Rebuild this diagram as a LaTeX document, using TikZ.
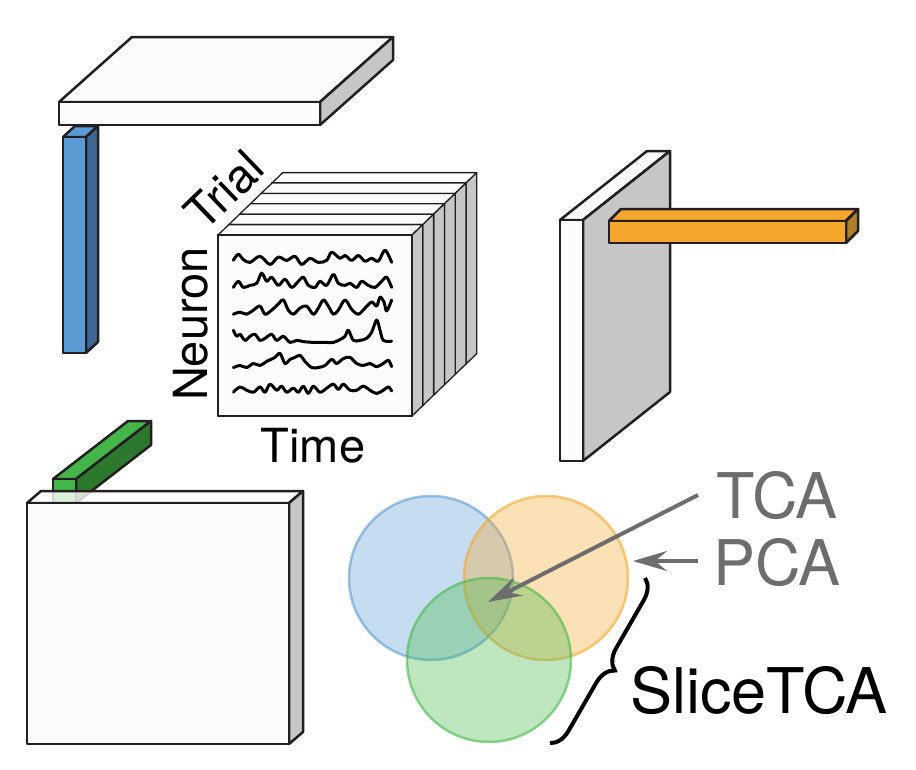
\documentclass[tikz,border=0pt]{standalone}
\usepackage{fontspec}
\setmainfont{TeX Gyre Heros}
\usetikzlibrary{arrows.meta,decorations.pathreplacing}
\definecolor{edgec}{HTML}{231F20}
\definecolor{facew}{HTML}{FCFCFC}
\definecolor{faceg}{HTML}{C6C6C6}
\definecolor{bluef}{HTML}{5B9BD5}
\definecolor{blues}{HTML}{3E6894}
\definecolor{orangef}{HTML}{F5A72D}
\definecolor{oranges}{HTML}{B07D2C}
\definecolor{greenf}{HTML}{43B549}
\definecolor{greens}{HTML}{2C782C}
\definecolor{vblue}{RGB}{91,155,213}
\definecolor{vorange}{RGB}{245,167,45}
\definecolor{vgreen}{RGB}{70,185,75}
\definecolor{arrg}{HTML}{6D6D6D}
% #1 x1 #2 y1 #3 x2 #4 y2 #5 dx #6 dy #7 front #8 side #9 top
\newcommand{\drawbox}[9]{%
  \filldraw[fill=#9] (#1,#2) -- ++(#5,#6) -- ++({(#3)-(#1)},0) -- (#3,#2) -- cycle;
  \filldraw[fill=#8] (#3,#2) -- ++(#5,#6) -- ++(0,{(#4)-(#2)}) -- (#3,#4) -- cycle;
  \filldraw[fill=#7] (#1,#2) rectangle (#3,#4);
}
\tikzset{
  boxline/.style={draw=edgec, line width=2.5pt, line join=round},
  thinbox/.style={draw=edgec, line width=1.3pt, line join=round},
  trace/.style={draw=black, line width=3pt, line cap=round, line join=round},
  amp/.style={shift={(0,#1)}, yscale=1.22, shift={(0,-#1)}},
  axlabel/.style={font=\fontsize{47}{50}\selectfont, inner sep=0pt},
  biglabel/.style={font=\fontsize{63}{66}\selectfont, inner sep=0pt},
  venn/.style={line width=2.5pt, fill opacity=0.35, draw opacity=0.6},
  garrow/.style={draw=arrg, line width=4pt, -{Stealth[length=34pt,width=20pt,inset=12pt]}},
}
\begin{document}
\begin{tikzpicture}[x=1pt,y=-1pt]
\useasboundingbox (0,0) rectangle (916,769);

% top slab and blue bar
\begin{scope}[boxline]
  \drawbox{59}{102}{320}{125}{73}{-65}{facew}{faceg}{facew}
  \drawbox{63}{137}{86}{353}{12}{-11}{bluef}{blues}{bluef}
\end{scope}

% data tensor
\foreach \k in {5,4,...,1}{
  \begin{scope}[shift={(10.8*\k,-10.4*\k)}, thinbox]
    \drawbox{218}{235}{412}{416}{10.8}{-10.4}{facew}{faceg}{facew}
  \end{scope}
}
\begin{scope}[thinbox]
  \drawbox{218}{235}{412}{416}{10.8}{-10.4}{facew}{faceg}{facew}
\end{scope}
\draw[boxline] (218,235) rectangle (412,416);

\begin{scope}[shift={(160,150)}, x=1/3pt, y=-1/3pt]
\draw[trace, amp=325] plot[smooth, tension=0.55] coordinates {(220,330) (235,315) (250,328) (270,335) (300,320) (330,340) (355,322) (380,330) (405,320) (425,340) (450,325) (475,335) (500,330) (515,310) (540,325) (555,318) (575,330) (595,318) (615,332) (635,325) (655,332) (675,305) (695,335)};
\draw[trace, amp=400] plot[smooth, tension=0.55] coordinates {(220,410) (235,395) (250,410) (270,405) (290,400) (305,375) (320,395) (335,385) (355,405) (375,390) (395,410) (415,395) (430,385) (445,405) (465,410) (480,395) (500,405) (520,378) (535,400) (555,405) (570,400) (590,410) (605,395) (625,405) (645,410) (665,395) (680,385) (695,410)};
\draw[trace, amp=478] plot[smooth, tension=0.55] coordinates {(220,490) (240,485) (260,490) (280,480) (300,470) (315,490) (335,480) (355,465) (370,455) (385,480) (400,490) (420,475) (440,470) (460,490) (475,475) (490,455) (505,470) (520,490) (535,480) (555,455) (575,478) (595,490) (615,475) (635,460) (650,470) (660,448) (672,460) (680,482) (695,455)};
\draw[trace, amp=565] plot[smooth, tension=0.55] coordinates {(220,545) (230,560) (240,555) (255,570) (270,560) (285,555) (300,570) (315,565) (335,555) (350,570) (370,560) (390,575) (410,570) (430,573) (460,575) (490,575) (520,575) (540,568) (555,560) (565,545) (580,570) (600,570) (620,565) (635,550) (650,520) (660,545) (670,570) (695,572)};
\draw[trace, amp=638] plot[smooth, tension=0.55] coordinates {(220,650) (240,645) (260,650) (280,640) (300,645) (320,635) (345,625) (360,615) (375,640) (390,630) (405,625) (420,620) (435,635) (455,650) (475,650) (495,645) (515,630) (530,640) (550,628) (570,625) (590,640) (610,645) (630,640) (650,648) (670,640) (685,632) (695,648)};
\draw[trace, amp=717] plot[smooth, tension=0.55] coordinates {(220,725) (240,712) (260,720) (280,725) (300,712) (315,725) (330,705) (350,720) (365,710) (380,725) (400,715) (415,725) (430,710) (445,728) (460,710) (480,725) (500,715) (520,705) (535,718) (550,705) (570,720) (590,720) (610,710) (630,720) (650,728) (670,720) (685,712) (695,722)};
\end{scope}

\node[axlabel, anchor=base] (time) at (313,462) {Time};
\node[axlabel, anchor=base, rotate=90] (neuron) at (207,324) {Neuron};
\node[axlabel, anchor=base, rotate=44] (trial) at (236,202) {Trial};

% right slab and orange bar
\begin{scope}[boxline]
  \drawbox{560}{220}{583}{461}{87}{-69}{facew}{faceg}{facew}
  \drawbox{609}{221}{846}{243}{12}{-12}{orangef}{oranges}{orangef}
\end{scope}

% green bar and bottom-left slab
\begin{scope}[boxline]
  \drawbox{53}{479}{76}{503}{75}{-58}{greenf}{greens}{greenf}
  \filldraw[fill=white, fill opacity=0.8] (27,503) -- ++(14,-12) -- ++(262,0) -- (289,503) -- cycle;
  \filldraw[fill=faceg] (289,503) -- ++(14,-12) -- ++(0,241) -- (289,744) -- cycle;
  \filldraw[fill=facew] (27,503) rectangle (289,744);
\end{scope}

% Venn diagram
\filldraw[venn, fill=vblue, draw=vblue] (431,578) circle[radius=82];
\filldraw[venn, fill=vorange, draw=vorange] (546,578) circle[radius=82];
\filldraw[venn, fill=vgreen, draw=vgreen] (489,660) circle[radius=82];

% labels and arrows
\node[biglabel, anchor=base, text=arrg] (tca) at (777,518) {TCA};
\node[biglabel, anchor=base, text=arrg] (pca) at (777,585) {PCA};
\node[biglabel, anchor=base] (slice) at (759,713) {SliceTCA};
\coordinate (tcafrom) at (698,495);
\coordinate (tcato) at (488,602);
\coordinate (pcafrom) at (698,561);
\coordinate (pcato) at (633,561);
\draw[garrow] (tcafrom) -- (tcato);
\draw[garrow] (pcafrom) -- (pcato);
\coordinate (bracetop) at (645,578);
\coordinate (bracebot) at (550,743);
\draw[line width=4pt, decorate, decoration={brace, amplitude=20pt}] (bracetop) -- (bracebot);
\end{tikzpicture}
\end{document}
